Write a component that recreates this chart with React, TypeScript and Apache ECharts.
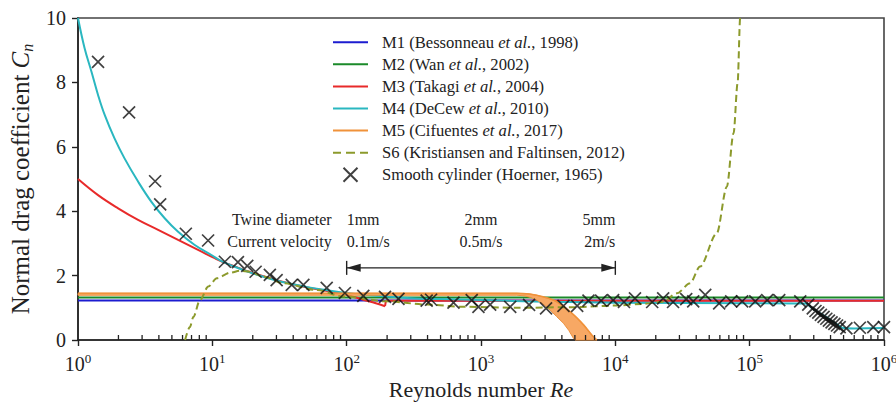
import React, { useEffect, useRef } from "react";
import * as echarts from "echarts";

const FONT = "'Liberation Serif', 'DejaVu Serif', serif";
const INK = "#222";

// Drag models, [Re, Cn]
const m1Bessonneau: number[][] = [[1, 1.23], [1e6, 1.23]];
const m2Wan: number[][] = [[1, 1.32], [1e6, 1.32]];
const m3TakagiLow: number[][] = [
  [1, 5.0], [1.41, 4.5], [1.99, 4.09], [2.8, 3.73], [3.95, 3.42], [5.56, 3.11],
  [7.83, 2.8], [10.4, 2.54], [12, 2.42], [15, 2.27], [20, 2.08], [30, 1.86],
  [50, 1.64], [70, 1.53], [100, 1.4], [133, 1.25], [165, 1.14], [193, 1.05],
];
const m3TakagiHigh: number[][] = [[193, 1.05], [196, 1.22], [1e6, 1.22]];
const m4DeCewLow: number[][] = [
  [1, 10.0], [1.12, 9.06], [1.26, 8.33], [1.41, 7.61], [1.58, 6.99], [1.87, 6.26],
  [2.22, 5.64], [2.8, 4.92], [3.52, 4.29], [4.42, 3.78], [5.56, 3.36], [7.4, 2.95],
  [9.84, 2.64], [11.7, 2.45], [15, 2.26], [20, 2.07], [30, 1.85], [50, 1.65],
  [70, 1.55], [100, 1.46], [150, 1.39], [200, 1.35], [300, 1.3], [500, 1.27],
  [1000, 1.24], [3000, 1.19], [1e4, 1.16],
];
const m4DeCewHigh: number[][] = [
  [1e4, 1.16], [1e5, 1.14], [2.6e5, 1.13], [3e5, 0.95], [3.5e5, 0.78], [4e5, 0.62],
  [4.5e5, 0.48], [4.9e5, 0.38], [6e5, 0.36], [1e6, 0.37],
];
// M5 spread: upper (right) and lower (left) edges of the band
const m5Upper: number[][] = [
  [1, 1.45], [1850, 1.45], [2300, 1.43], [2600, 1.39], [2900, 1.34], [3300, 1.27],
  [3660, 1.19], [4100, 1.05], [4600, 0.88], [5200, 0.68], [5800, 0.47],
  [6350, 0.27], [6870, 0.1], [7280, 0],
];
const m5Lower: number[][] = [
  [1, 1.39], [1850, 1.39], [2100, 1.37], [2350, 1.32], [2600, 1.24], [2950, 1.09],
  [3270, 0.93], [3650, 0.73], [4110, 0.52], [4500, 0.3], [4880, 0.05], [5010, 0],
];
const s6Kristiansen: number[][] = [
  [6.27, 0], [6.8, 0.4], [7.23, 0.72], [8.09, 1.24], [9.33, 1.66], [10.8, 1.92],
  [13.6, 2.09], [16.1, 2.15], [19.1, 2.12], [24, 1.97], [33.8, 1.76], [59.8, 1.55],
  [94.6, 1.35], [200, 1.2], [400, 1.1], [740, 1.03], [1860, 1.0], [5000, 1.02],
  [1e4, 1.07], [1.6e4, 1.12], [2.27e4, 1.19], [2.87e4, 1.45], [3.6e4, 1.76],
  [4.27e4, 2.28], [5.69e4, 3.31], [6.76e4, 4.76], [7.59e4, 6.42], [8.13e4, 7.97],
  [8.5e4, 10], [8.8e4, 11.5],
];
// Smooth cylinder measurements (Hoerner, 1965)
const smoothCylinder: number[][] = [
  [1.41, 8.64], [2.4, 7.07], [3.75, 4.93], [4.09, 4.21], [6.35, 3.3], [9.3, 3.09],
  [12.4, 2.43], [15.5, 2.42], [18.2, 2.3], [21, 2.12], [26.8, 2.02], [30.1, 1.86],
  [39, 1.71], [47.6, 1.71], [71, 1.62], [97, 1.46], [133, 1.37], [193, 1.34],
  [243, 1.28], [394, 1.22], [425, 1.25], [624, 1.16], [853, 1.24], [957, 1.03],
  [1170, 1.1], [1650, 1.03], [2280, 1.09], [3050, 0.98], [4110, 1.06], [5200, 1.06],
  [6310, 1.22], [7840, 1.22], [9630, 1.24], [11600, 1.18], [14000, 1.29],
  [18800, 1.18], [22700, 1.29], [26900, 1.18], [33700, 1.27], [38000, 1.2],
  [46700, 1.4], [59300, 1.14], [72800, 1.2], [87900, 1.2], [110000, 1.2],
  [135000, 1.24], [166000, 1.24], [238000, 1.2], [273000, 1.1], [295000, 0.98],
  [309000, 0.9], [324000, 0.85], [339000, 0.78], [355000, 0.72], [372000, 0.66],
  [389000, 0.6], [407000, 0.55], [427000, 0.5], [447000, 0.45], [468000, 0.4],
  [525000, 0.36], [661000, 0.38], [832000, 0.4], [1000000, 0.4],
];

const legendNames = [
  "M1 (Bessonneau et al., 1998)",
  "M2 (Wan et al., 2002)",
  "M3 (Takagi et al., 2004)",
  "M4 (DeCew et al., 2010)",
  "M5 (Cifuentes et al., 2017)",
  "S6 (Kristiansen and Faltinsen, 2012)",
  "Smooth cylinder (Hoerner, 1965)",
];

const twineRow = ["1mm", "2mm", "5mm"];
const velocityRow = ["0.1m/s", "0.5m/s", "2m/s"];

// minor ticks of the logarithmic Re axis: 2..9 within each decade
const minorTicks: number[][] = [];
for (let d = 1; d < 1e6; d *= 10) {
  for (let k = 2; k <= 9; k++) minorTicks.push([k * d, 0]);
}

const CROSS = "path://M0,0L10,10M10,0L0,10";
// legend glyphs: a 2px strip inside a 35x14 box (tiny corner squares fix the box)
const BOX = "M0,0h0.01v0.01h-0.01z M35,14h-0.01v-0.01h0.01z";
const ICON_SOLID = `path://${BOX} M0,6h35v2h-35z`;
const ICON_DASHED = `path://${BOX} M0,6h8v2h-8z M13,6h9v2h-9z M27,6h8v2h-8z`;

const LEGEND_SIZE = 16.6;

const lineSeries = (name: string, data: number[][], color: string, extra: any = {}) => ({
  type: "line",
  name,
  data,
  symbol: "none",
  showSymbol: false,
  smooth: 0.4,
  lineStyle: { color, width: 2 },
  itemStyle: { color },
  clip: true,
  ...extra,
});

const option: any = {
  animation: false,
  backgroundColor: "#fff",
  textStyle: { fontFamily: FONT, color: INK },
  grid: {
    left: 78,
    right: 12,
    top: 18,
    bottom: 69,
    show: true,
    borderColor: "#444",
    borderWidth: 1.6,
    outerBoundsMode: "none",
    containLabel: false,
  },
  legend: {
    orient: "vertical",
    left: 333,
    top: 33.7,
    padding: 0,
    itemWidth: 35,
    itemHeight: 14,
    itemGap: 5.1,
    selectedMode: false,
    data: legendNames.map((name, i) =>
      i === 6
        ? { name }
        : { name, icon: i === 5 ? ICON_DASHED : ICON_SOLID, itemStyle: { borderWidth: 0 } }
    ),
    formatter: (name: string) => {
      const parts = name.split("et al.");
      if (parts.length === 2) return `{g| }{n|${parts[0]}}{i|et al.}{n|${parts[1]}}`;
      return `{g| }{n|${name}}`;
    },
    textStyle: {
      fontFamily: FONT,
      color: INK,
      fontSize: LEGEND_SIZE,
      rich: {
        g: { width: 9, fontFamily: FONT, fontSize: LEGEND_SIZE },
        n: { fontFamily: FONT, fontSize: LEGEND_SIZE, color: INK },
        i: { fontFamily: FONT, fontSize: LEGEND_SIZE, color: INK, fontStyle: "italic" },
      },
    },
  },
  xAxis: {
    type: "log",
    logBase: 10,
    min: 1,
    max: 1e6,
    name: "{n|Reynolds number }{i|Re}",
    nameLocation: "middle",
    nameGap: 38,
    nameTextStyle: {
      rich: {
        n: { fontFamily: FONT, fontSize: 22, color: INK },
        i: { fontFamily: FONT, fontSize: 22, color: INK, fontStyle: "italic" },
      },
    },
    axisLine: { lineStyle: { color: INK, width: 1.6 } },
    axisTick: { show: true, inside: false, length: 6, lineStyle: { color: INK, width: 1.4 } },
    minorTick: { show: false },
    splitLine: { show: false },
    axisLabel: {
      margin: 12,
      formatter: (v: number) => `{b|10}{s|${Math.round(Math.log10(v))}}`,
      rich: {
        b: { fontFamily: FONT, fontSize: 20, lineHeight: 24, color: INK },
        s: { fontFamily: FONT, fontSize: 13, lineHeight: 14, color: INK, verticalAlign: "top" },
      },
    },
  },
  yAxis: {
    type: "value",
    min: 0,
    max: 10,
    interval: 2,
    name: "{n|Normal drag coefficient }{i|C}{s|n}",
    nameLocation: "middle",
    nameRotate: 90,
    nameGap: 38,
    nameTextStyle: {
      rich: {
        n: { fontFamily: FONT, fontSize: 25, lineHeight: 30, color: INK },
        i: { fontFamily: FONT, fontSize: 25, lineHeight: 30, color: INK, fontStyle: "italic" },
        s: { fontFamily: FONT, fontSize: 16, lineHeight: 16, color: INK, fontStyle: "italic", verticalAlign: "bottom" },
      },
    },
    axisLine: { show: true, lineStyle: { color: INK, width: 1.6 } },
    axisTick: { show: true, inside: false, length: 6, lineStyle: { color: INK, width: 1.4 } },
    splitLine: { show: false },
    axisLabel: { margin: 12, fontFamily: FONT, fontSize: 20, color: INK },
  },
  series: [
    lineSeries(legendNames[0], m1Bessonneau, "#1c1cd0", { smooth: false, z: 2 }),
    lineSeries(legendNames[1], m2Wan, "#1b8a2a", { smooth: false, z: 2 }),
    lineSeries(legendNames[2], m3TakagiLow, "#e82a2a", { z: 3 }),
    lineSeries(legendNames[2], m3TakagiHigh, "#e82a2a", { z: 3, smooth: false }),
    lineSeries(legendNames[3], m4DeCewLow, "#2ab7c0", { z: 4 }),
    lineSeries(legendNames[3], m4DeCewHigh, "#2ab7c0", { z: 4, smooth: 0.15 }),
    {
      type: "custom",
      name: "M5 band",
      data: [[1, 0]],
      encode: { x: 0, y: 1 },
      z: 5,
      silent: true,
      renderItem: (_params: any, api: any) => {
        const pts = [
          ...m5Upper.map((p) => api.coord(p)),
          ...m5Lower.slice().reverse().map((p) => api.coord(p)),
        ];
        return {
          type: "polygon",
          shape: { points: pts },
          style: { fill: "#f7a864", stroke: "#ec9240", lineWidth: 1 },
        };
      },
    },
    lineSeries(legendNames[4], m5Upper, "#f0923a", {
      z: 5,
      smooth: 0.2,
      lineStyle: { color: "#f0923a", width: 1.6 },
    }),
    lineSeries(legendNames[5], s6Kristiansen, "#8c9a2c", {
      z: 6,
      smooth: 0.3,
      smoothMonotone: "x",
      lineStyle: { color: "#8c9a2c", width: 2, type: [7, 4] },
    }),
    {
      type: "scatter",
      name: legendNames[6],
      data: smoothCylinder,
      symbol: CROSS,
      symbolSize: 12,
      symbolKeepAspect: true,
      itemStyle: { color: "rgba(0,0,0,0)", borderColor: "#111", borderWidth: 1.7 },
      z: 8,
    },
    {
      type: "custom",
      name: "minor ticks",
      data: minorTicks,
      encode: { x: 0, y: 1 },
      z: 9,
      silent: true,
      clip: false,
      renderItem: (_params: any, api: any) => {
        const p = api.coord([api.value(0), 0]);
        return {
          type: "line",
          shape: { x1: p[0], y1: p[1], x2: p[0], y2: p[1] - 5 },
          style: { stroke: INK, lineWidth: 1.3 },
        };
      },
    },
  ],
};

export default function App() {
  const ref = useRef<HTMLDivElement>(null);
  useEffect(() => {
    const el = ref.current;
    if (!el) return;
    const chart = echarts.init(el, null, { renderer: "svg" });
    chart.setOption(option);

    // Range annotation anchored to the data coordinates
    const px = (re: number, cn: number) =>
      chart.convertToPixel({ gridIndex: 0 }, [re, cn]) as number[];
    const [xLo, yArrow] = px(100, 2.24);
    const [xMid] = px(1000, 2.24);
    const [xHi] = px(10000, 2.24);
    const [, yRow1] = px(1, 3.73);
    const [, yRow2] = px(1, 3.07);

    const txt = (text: string, x: number, y: number, align: string) => ({
      type: "text",
      x,
      y,
      z: 20,
      style: {
        text,
        font: `16px ${FONT}`,
        fill: INK,
        align,
        textAlign: align,
        verticalAlign: "middle",
        textVerticalAlign: "middle",
      },
    });
    const seg = (x1: number, y1: number, x2: number, y2: number) => ({
      type: "line",
      z: 20,
      shape: { x1, y1, x2, y2 },
      style: { stroke: INK, lineWidth: 1.4 },
    });

    chart.setOption({
      graphic: [
        txt("Twine diameter", xLo - 15, yRow1, "right"),
        txt("Current velocity", xLo - 15, yRow2, "right"),
        txt(twineRow[0], xLo, yRow1, "left"),
        txt(velocityRow[0], xLo, yRow2, "left"),
        txt(twineRow[1], xMid, yRow1, "center"),
        txt(velocityRow[1], xMid, yRow2, "center"),
        txt(twineRow[2], xHi, yRow1, "right"),
        txt(velocityRow[2], xHi, yRow2, "right"),
        seg(xLo, yArrow, xHi, yArrow),
        seg(xLo, yArrow - 7, xLo, yArrow + 7),
        seg(xHi, yArrow - 7, xHi, yArrow + 7),
        {
          type: "polygon",
          z: 20,
          shape: { points: [[xLo, yArrow], [xLo + 14, yArrow - 4], [xLo + 14, yArrow + 4]] },
          style: { fill: INK },
        },
        {
          type: "polygon",
          z: 20,
          shape: { points: [[xHi, yArrow], [xHi - 14, yArrow - 4], [xHi - 14, yArrow + 4]] },
          style: { fill: INK },
        },
      ],
    });

    return () => chart.dispose();
  }, []);

  return (
    <div
      ref={ref}
      style={{ position: "fixed", left: 0, top: 0, width: 896, height: 409, background: "#fff" }}
    />
  );
}
